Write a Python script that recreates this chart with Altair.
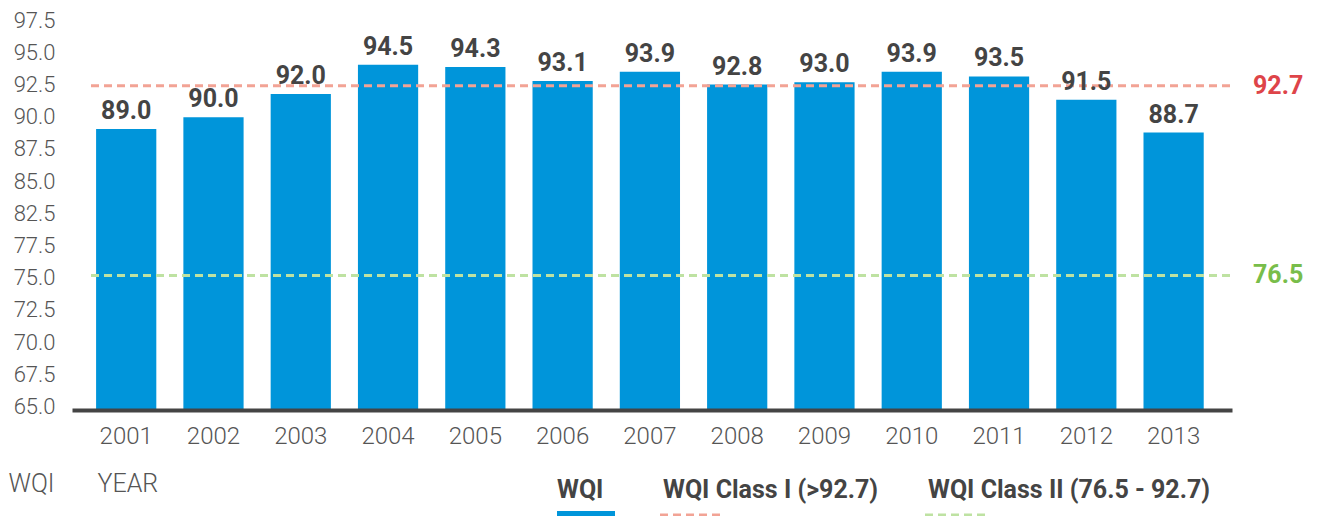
import altair as alt
import pandas as pd

# ---- data ----
years = ["2001", "2002", "2003", "2004", "2005", "2006", "2007",
         "2008", "2009", "2010", "2011", "2012", "2013"]
wqi = [89.0, 90.0, 92.0, 94.5, 94.3, 93.1, 93.9, 92.8, 93.0, 93.9, 93.5, 91.5, 88.7]

y_tick_labels = ["65.0", "67.5", "70.0", "72.5", "75.0", "77.5", "82.5",
                 "85.0", "87.5", "90.0", "92.5", "95.0", "97.5"]

series_names = ["WQI", "WQI Class I (>92.7)", "WQI Class II (76.5 - 92.7)"]
threshold_values = [92.7, 76.5]

# ---- styles ----
BAR_COLOR = "#0095DA"
LINE_COLORS = ["#F2A395", "#BEE2A2"]
TEXT_COLORS = ["#DE4449", "#78BD4A"]
FONT = "Roboto"
GREY = "#555555"
DARK = "#444444"

PLOT_W, PLOT_H = 1160, 398
Y_DOMAIN = [65, 99]

df = pd.DataFrame({"year": years, "wqi": wqi})

# evenly spaced label positions as drawn in the reference
tick_start, tick_step = 65.3, 2.75
tick_vals = [tick_start + tick_step * i for i in range(len(y_tick_labels))]
label_arr = "[" + ",".join("'" + s + "'" for s in y_tick_labels) + "]"
label_expr = f"{label_arr}[round((datum.value - 65) / {tick_step})]"

yscale = alt.Scale(domain=Y_DOMAIN, zero=False, nice=False)
xscale = alt.Scale(paddingInner=0.31, paddingOuter=0.3, align=0.46)

x_axis = alt.Axis(
    title="YEAR", titleX=25, titleY=73, titleAlign="left", titleBaseline="middle",
    titleFont=FONT, titleFontSize=25, titleFontWeight=300, titleColor=GREY,
    labelAngle=0, labelFont=FONT, labelFontSize=24, labelFontWeight=300,
    labelColor=GREY, labelPadding=14, ticks=False,
    domainColor=DARK, domainWidth=4, zindex=1,
)
y_axis = alt.Axis(
    values=tick_vals, labelExpr=label_expr, labelOverlap=False,
    title="WQI", titleAngle=0, titleX=-64, titleY=471, titleAlign="left",
    titleBaseline="middle", titleFont=FONT, titleFontSize=25,
    titleFontWeight=300, titleColor=GREY,
    labelFont=FONT, labelFontSize=22, labelFontWeight=300, labelColor=GREY,
    labelPadding=17, ticks=False, domain=False, grid=False,
)


def xe(field):
    return alt.X(field, scale=xscale, sort=years, axis=x_axis)


def ye(field):
    return alt.Y(field, scale=yscale, axis=y_axis)


bars = alt.Chart(df).mark_bar(color=BAR_COLOR).encode(
    x=xe("year:N"), y=ye("wqi:Q"), y2=alt.datum(Y_DOMAIN[0]))

values_text = alt.Chart(df).mark_text(
    font=FONT, fontSize=25, fontWeight="bold", color=DARK, dy=-10, baseline="alphabetic"
).encode(x=xe("year:N"), y=ye("wqi:Q"),
         text=alt.Text("wqi:Q", format=".1f"))

layers = [bars]
for i, v in enumerate(threshold_values):
    tdf = pd.DataFrame({"name": [series_names[i + 1]], "wqi": [v]})
    rule = alt.Chart(tdf).mark_rule(
        strokeDash=[8, 5], strokeWidth=3, color=LINE_COLORS[i]
    ).encode(y=ye("wqi:Q"), x=alt.value(19), x2=alt.value(PLOT_W))
    lab = alt.Chart(tdf).mark_text(
        font=FONT, fontSize=25, fontWeight="bold", color=TEXT_COLORS[i],
        align="left", baseline="middle"
    ).encode(y=ye("wqi:Q"), x=alt.value(1181),
             text=alt.Text("wqi:Q", format=".1f"))
    layers += [rule, lab]
layers.append(values_text)

# ---- manual legend (labels above symbols, as in the reference) ----
legend_x = [485, 591, 856]
for i, name in enumerate(series_names):
    ldf = pd.DataFrame({"name": [name]})
    layers.append(alt.Chart(ldf).mark_text(
        font=FONT, fontSize=25, fontWeight="bold", color=DARK,
        align="left", baseline="middle"
    ).encode(text="name:N", x=alt.value(legend_x[i]), y=alt.value(478)))

sym0 = pd.DataFrame({"name": [series_names[0]]})
layers.append(alt.Chart(sym0).mark_rect(color=BAR_COLOR).encode(
    x=alt.value(485), x2=alt.value(543), y=alt.value(499), y2=alt.value(512)))
for i in range(2):
    sdf = pd.DataFrame({"name": [series_names[i + 1]]})
    layers.append(alt.Chart(sdf).mark_rule(
        strokeDash=[8, 5], strokeWidth=3, color=LINE_COLORS[i]
    ).encode(x=alt.value(legend_x[i + 1] - 3), x2=alt.value(legend_x[i + 1] + 62),
             y=alt.value(503)))

chart = alt.layer(*layers).properties(
    width=PLOT_W, height=PLOT_H,
    autosize=alt.AutoSizeParams(type="none"),
    padding={"left": 64, "top": 4, "right": 77, "bottom": 106},
).configure_view(stroke=None).configure_axis(labelOverlap=False)

chart.save("out.html", embed_options={"renderer": "svg", "actions": False})
